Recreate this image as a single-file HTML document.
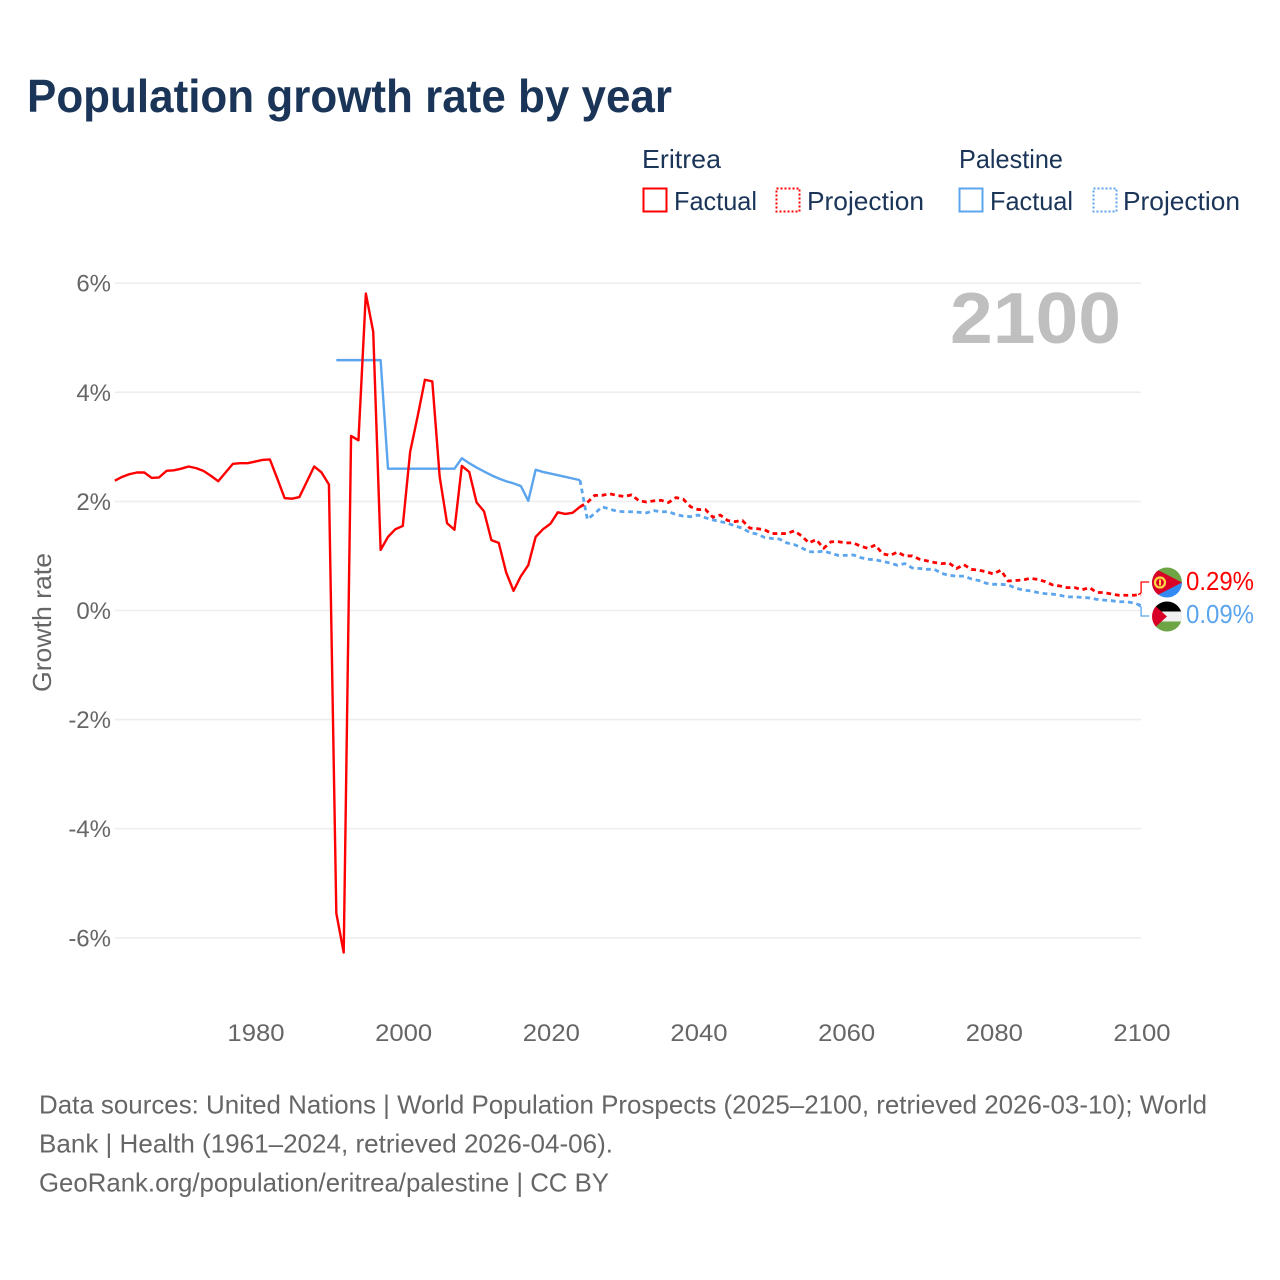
<!DOCTYPE html>
<html lang="en">
<head>
<meta charset="utf-8">
<title>Population growth rate by year</title>
<style>
html,body{margin:0;padding:0;background:#fff;}
svg{display:block;}
text{font-family:"Liberation Sans",sans-serif;}
</style>
</head>
<body>
<svg id="chart" width="1280" height="1280" viewBox="0 0 1280 1280" xmlns="http://www.w3.org/2000/svg">
  <rect width="1280" height="1280" fill="#fff"/>
  <text x="27" y="112" font-size="46" font-weight="700" fill="#1a3557" textLength="645" lengthAdjust="spacingAndGlyphs">Population growth rate by year</text>

  <g font-size="26" fill="#1a3557">
    <text x="642" y="168" textLength="79" lengthAdjust="spacingAndGlyphs">Eritrea</text>
    <rect x="643.5" y="188.5" width="23" height="23" fill="none" stroke="#ff0000" stroke-width="2"/>
    <text x="674" y="210" textLength="83" lengthAdjust="spacingAndGlyphs">Factual</text>
    <rect x="776.5" y="188.5" width="23" height="23" fill="none" stroke="#ff0000" stroke-width="2" stroke-dasharray="2 2"/>
    <text x="807" y="210" textLength="117" lengthAdjust="spacingAndGlyphs">Projection</text>
    <text x="959" y="168" textLength="104" lengthAdjust="spacingAndGlyphs">Palestine</text>
    <rect x="959.5" y="188.5" width="23" height="23" fill="none" stroke="#5ba4ee" stroke-width="2"/>
    <text x="990" y="210" textLength="83" lengthAdjust="spacingAndGlyphs">Factual</text>
    <rect x="1093.5" y="188.5" width="23" height="23" fill="none" stroke="#5ba4ee" stroke-width="2" stroke-dasharray="2 2"/>
    <text x="1123" y="210" textLength="117" lengthAdjust="spacingAndGlyphs">Projection</text>
  </g>

  <g id="grid"></g>
  <g id="yticks" font-size="24" fill="#666"></g>
  <g id="xticks" font-size="24" fill="#666"></g>
  <text transform="translate(51,622.5) rotate(-90)" text-anchor="middle" font-size="26" fill="#666" textLength="139" lengthAdjust="spacingAndGlyphs">Growth rate</text>
  <text id="year" x="950" y="343" font-size="72" font-weight="700" fill="#bfbfbf" textLength="171" lengthAdjust="spacingAndGlyphs">2100</text>

  <g id="series" fill="none" stroke-linejoin="round" transform="translate(-0.9,0)"></g>

  <g>
    <clipPath id="clipE"><circle cx="1167" cy="582.5" r="15"/></clipPath>
    <g clip-path="url(#clipE)">
      <rect x="1152" y="567" width="30" height="16" fill="#6da544"/>
      <rect x="1152" y="582.5" width="30" height="16" fill="#338af3"/>
      <polygon points="1152,567 1182,582.5 1152,598" fill="#d80027"/>
      <circle cx="1160" cy="582.5" r="5" fill="none" stroke="#ffda44" stroke-width="2.2"/>
      <rect x="1159" y="579.5" width="2" height="6" fill="#ffda44"/>
    </g>
  </g>
  <g>
    <clipPath id="clipP"><circle cx="1167" cy="616.5" r="15"/></clipPath>
    <g clip-path="url(#clipP)">
      <rect x="1152" y="601" width="30" height="11" fill="#000"/>
      <rect x="1152" y="611.5" width="30" height="10" fill="#f0f0f0"/>
      <rect x="1152" y="621.5" width="30" height="11" fill="#6da544"/>
      <polygon points="1150,601 1167,616.5 1150,632" fill="#d80027"/>
    </g>
  </g>

  <text id="labelE" x="1186" y="590" font-size="26" fill="#ff0000" textLength="68" lengthAdjust="spacingAndGlyphs"></text>
  <text id="labelP" x="1186" y="623" font-size="26" fill="#5ba4ee" textLength="68" lengthAdjust="spacingAndGlyphs"></text>

  <g font-size="26" fill="#666">
    <text x="39" y="1113.5" textLength="1168" lengthAdjust="spacingAndGlyphs">Data sources: United Nations | World Population Prospects (2025–2100, retrieved 2026-03-10); World</text>
    <text x="39" y="1152.5" textLength="574" lengthAdjust="spacingAndGlyphs">Bank | Health (1961–2024, retrieved 2026-04-06).</text>
    <text x="39" y="1191.5" textLength="570" lengthAdjust="spacingAndGlyphs">GeoRank.org/population/eritrea/palestine | CC BY</text>
  </g>
</svg>
<script>
const xTickYears = [1980, 2000, 2020, 2040, 2060, 2080, 2100];
const yTickValues = [6, 4, 2, 0, -2, -4, -6];
const eritreaFactualStart = 1961;
const eritreaFactual = [2.38,2.45,2.50,2.53,2.53,2.43,2.44,2.56,2.57,2.60,2.64,2.61,2.56,2.47,2.37,2.53,2.69,2.70,2.70,2.73,2.76,2.77,2.42,2.06,2.05,2.08,2.36,2.64,2.53,2.31,-5.55,-6.27,3.20,3.12,5.81,5.11,1.11,1.35,1.49,1.55,2.91,3.55,4.23,4.20,2.45,1.60,1.48,2.65,2.54,1.98,1.82,1.29,1.24,0.70,0.36,0.63,0.83,1.35,1.49,1.59,1.80,1.77,1.79,1.90];
const palestineFactualStart = 1991;
const palestineFactual = [4.59,4.59,4.59,4.59,4.59,4.59,4.59,2.60,2.60,2.60,2.60,2.60,2.60,2.60,2.60,2.60,2.60,2.79,2.70,2.62,2.55,2.48,2.42,2.37,2.33,2.28,2.01,2.58,2.54,2.51,2.48,2.45,2.42,2.39];
const projectionStart = 2024;
const eritreaProjection = [1.90,1.98,2.11,2.11,2.14,2.11,2.09,2.12,2.01,1.99,2.01,2.02,1.98,2.07,2.04,1.90,1.85,1.85,1.71,1.75,1.65,1.63,1.65,1.51,1.50,1.48,1.41,1.41,1.41,1.46,1.37,1.24,1.30,1.14,1.26,1.26,1.24,1.24,1.18,1.14,1.20,1.04,1.01,1.07,1.00,1.00,0.94,0.91,0.88,0.86,0.87,0.77,0.84,0.755,0.74,0.71,0.67,0.74,0.54,0.55,0.56,0.59,0.57,0.53,0.47,0.45,0.42,0.42,0.38,0.42,0.33,0.33,0.30,0.28,0.28,0.28,0.29];
const palestineProjection = [2.39,1.67,1.78,1.90,1.86,1.82,1.81,1.81,1.80,1.79,1.83,1.81,1.81,1.76,1.73,1.72,1.75,1.70,1.66,1.63,1.60,1.55,1.51,1.43,1.40,1.34,1.32,1.31,1.24,1.21,1.15,1.08,1.07,1.09,1.05,1.01,1.01,1.02,0.97,0.94,0.93,0.90,0.87,0.83,0.86,0.78,0.77,0.755,0.755,0.68,0.645,0.63,0.63,0.58,0.55,0.50,0.48,0.48,0.47,0.41,0.375,0.36,0.33,0.31,0.30,0.28,0.25,0.25,0.24,0.23,0.205,0.19,0.18,0.16,0.16,0.14,0.09];
const eritreaFinalLabel = "0.29%";
const palestineFinalLabel = "0.09%";

const RED = '#ff0000';
const BLUE = '#5ba4ee';
const NS = 'http://www.w3.org/2000/svg';
function xScale(year) { return 256 + (year - 1980) * 886 / 120; }
function yScale(v) { return 610.5 - v * 54.55; }
function pathFrom(start, values) {
  return values.map(function (v, i) {
    return (i ? 'L' : 'M') + xScale(start + i).toFixed(2) + ' ' + yScale(v).toFixed(2);
  }).join(' ');
}
function fitText(el, factor) {
  el.setAttribute('textLength', (el.getComputedTextLength() * factor).toFixed(1));
  el.setAttribute('lengthAdjust', 'spacingAndGlyphs');
}

const grid = document.getElementById('grid');
const yTicks = document.getElementById('yticks');
yTickValues.forEach(function (v) {
  const line = document.createElementNS(NS, 'line');
  
  
  line.setAttribute('x1', xScale(1961) - 1);
  line.setAttribute('x2', 1141);
  line.setAttribute('y1', yScale(v));
  line.setAttribute('y2', yScale(v));
  line.setAttribute('stroke', '#eeeeee');
  line.setAttribute('stroke-width', '1.6');
  grid.appendChild(line);
  const t = document.createElementNS(NS, 'text');
  
  
  t.setAttribute('x', 111);
  t.setAttribute('y', yScale(v) + 8.5);
  t.setAttribute('text-anchor', 'end');
  t.textContent = v + '%';
  yTicks.appendChild(t);
});

const xTicks = document.getElementById('xticks');
xTickYears.forEach(function (yr) {
  const t = document.createElementNS(NS, 'text');
  
  
  t.setAttribute('x', xScale(yr));
  t.setAttribute('y', 1041);
  t.setAttribute('text-anchor', 'middle');
  t.textContent = yr;
  xTicks.appendChild(t);
  fitText(t, 1.07);
});

const series = document.getElementById('series');
function addPath(name, d, color, dash) {
  const p = document.createElementNS(NS, 'path');
  
  
  p.setAttribute('d', d);
  p.setAttribute('stroke', color);
  p.setAttribute('stroke-width', dash ? '2.8' : '2.4');
  if (dash) p.setAttribute('stroke-dasharray', dash);
  series.appendChild(p);
}
addPath('palestine-projection-line', pathFrom(projectionStart, palestineProjection), BLUE, '4.8 3.8');
addPath('eritrea-projection-line', pathFrom(projectionStart, eritreaProjection), RED, '4.8 3.8');
addPath('palestine-factual-line', pathFrom(palestineFactualStart, palestineFactual), BLUE);
addPath('eritrea-factual-line', pathFrom(eritreaFactualStart, eritreaFactual), RED);

function addConnector(name, endValue, flagY, color) {
  const p = document.createElementNS(NS, 'path');
  const ex = xScale(2100) - 3;
  const ey = yScale(endValue);
  
  
  p.setAttribute('d', 'M' + ex + ' ' + ey + ' L' + (ex + 3) + ' ' + (ey - (ey - flagY) * 0.15) + ' L' + (ex + 3) + ' ' + flagY + ' L1150 ' + flagY);
  p.setAttribute('stroke', color);
  p.setAttribute('stroke-width', '1.3');
  series.appendChild(p);
}
addConnector('eritrea-label-connector', eritreaProjection[eritreaProjection.length - 1], 582, RED);
addConnector('palestine-label-connector', palestineProjection[palestineProjection.length - 1], 616, BLUE);

document.getElementById('labelE').textContent = eritreaFinalLabel;
document.getElementById('labelP').textContent = palestineFinalLabel;
</script>
</body>
</html>
